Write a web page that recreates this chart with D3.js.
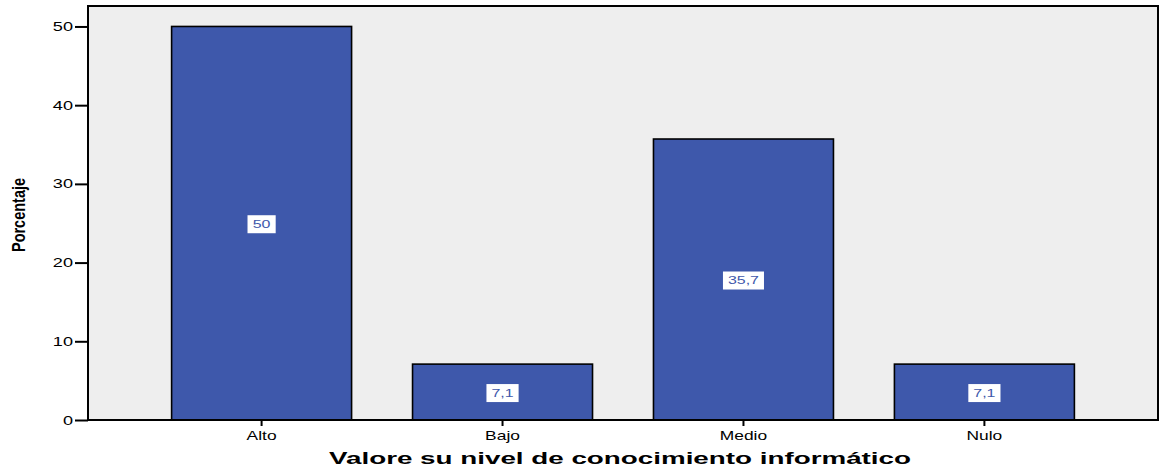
<!DOCTYPE html>
<html>
<head>
<meta charset="utf-8">
<script src="https://cdn.jsdelivr.net/npm/d3@7"></script>
<style>
  body { margin: 0; background: #fff; }
  svg text { font-family: "Liberation Sans", Arial, sans-serif; }
</style>
</head>
<body>
<div id="chart"></div>
<script>
// data
var categories = ["Alto", "Bajo", "Medio", "Nulo"];
var percentages = [50, 7.1, 35.7, 7.1];
var barLabels = ["50", "7,1", "35,7", "7,1"];
var yTicks = [0, 10, 20, 30, 40, 50];

var width = 1160, height = 468;
var margin = {top: 6, right: 2, bottom: 48, left: 88};
var w = width - margin.left - margin.right,
    h = height - margin.top - margin.bottom;
var stretch = 1.45; // the original text is drawn wide

var svg = d3.select("#chart").append("svg")
    .attr("width", width)
    .attr("height", height);

var g = svg.append("g")
    .attr("transform", "translate(" + margin.left + "," + margin.top + ")");

var x = d3.scaleBand()
    .domain(categories)
    .range([0, w])
    .paddingInner(0.253)
    .paddingOuter(0.347);

var y = d3.scaleLinear()
    .domain([0, 52.6])
    .range([h, 0]);

// plot background
g.append("rect")
    .attr("x", 0).attr("y", 0)
    .attr("width", w).attr("height", h)
    .attr("fill", "#eeeeee");

// bars
g.selectAll("rect.bar")
    .data(percentages)
    .enter()
    .append("rect")
    .attr("class", "bar")
    .attr("x", function(d, i){ return x(categories[i]); })
    .attr("y", function(d){ return y(d); })
    .attr("width", x.bandwidth())
    .attr("height", function(d){ return h - y(d); })
    .attr("fill", "#3e58ab")
    .attr("stroke", "#000")
    .attr("stroke-width", 1.6);

// value labels with white boxes
var lab = g.selectAll("g.lab")
    .data(percentages)
    .enter()
    .append("g")
    .attr("class", "lab")
    .attr("transform", function(d, i){
        return "translate(" + (x(categories[i]) + x.bandwidth() / 2) + "," + (y(d / 2) + 1) + ")";
    });

lab.each(function(d, i){
    var el = d3.select(this);
    var t = el.append("text")
        .attr("text-anchor", "middle")
        .attr("dy", "0.36em")
        .attr("fill", "#3e58ab")
        .attr("transform", "scale(" + stretch + ",1)")
        .style("font-size", "11px")
        .text(barLabels[i]);
    var bw = t.node().getBBox().width * stretch;
    el.insert("rect", "text")
        .attr("x", -bw / 2 - 5)
        .attr("y", -9)
        .attr("width", bw + 10)
        .attr("height", 18)
        .attr("fill", "#fff");
});

// frame
g.append("rect")
    .attr("x", 0).attr("y", 0)
    .attr("width", w).attr("height", h)
    .attr("fill", "none")
    .attr("stroke", "#000")
    .attr("stroke-width", 2);

// y axis
var yAxis = g.append("g")
    .call(d3.axisLeft(y).tickValues(yTicks).tickSize(13).tickPadding(2));
yAxis.select(".domain").remove();
yAxis.selectAll(".tick line").attr("stroke", "#000").attr("stroke-width", 2);
yAxis.selectAll(".tick text")
    .attr("fill", "#000")
    .attr("x", -15 / stretch)
    .attr("transform", "scale(" + stretch + ",1)")
    .style("font-size", "12.5px");

// x axis
var xAxis = g.append("g")
    .attr("transform", "translate(0," + h + ")")
    .call(d3.axisBottom(x).tickSize(6).tickPadding(5));
xAxis.select(".domain").remove();
xAxis.selectAll(".tick line").attr("stroke", "#000").attr("stroke-width", 2);
xAxis.selectAll(".tick text")
    .attr("fill", "#000")
    .attr("transform", "scale(" + stretch + ",1)")
    .style("font-size", "12px");

// axis titles
svg.append("text")
    .attr("x", 620)
    .attr("y", 464)
    .attr("text-anchor", "middle")
    .attr("textLength", 582)
    .attr("lengthAdjust", "spacingAndGlyphs")
    .style("font-size", "16px")
    .style("font-weight", "bold")
    .text("Valore su nivel de conocimiento informático");

svg.append("text")
    .attr("transform", "translate(24.5,215) rotate(-90)")
    .attr("text-anchor", "middle")
    .attr("textLength", 74)
    .attr("lengthAdjust", "spacingAndGlyphs")
    .style("font-size", "18px")
    .style("font-weight", "bold")
    .text("Porcentaje");
</script>
</body>
</html>
